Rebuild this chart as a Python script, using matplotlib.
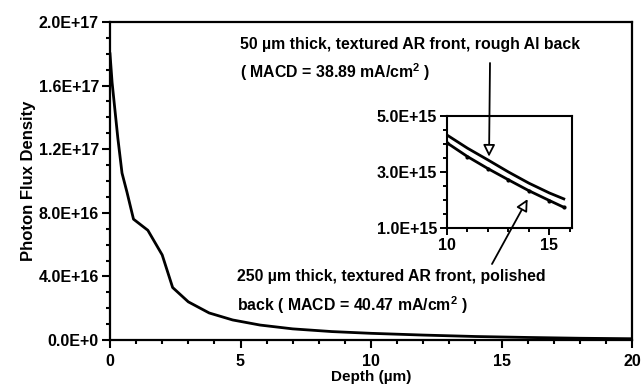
import matplotlib
matplotlib.use("Agg")
import matplotlib.pyplot as plt
from matplotlib.ticker import MultipleLocator
import numpy as np

# main curve (flux in units of 1E17)
depth = [0, 0.08, 0.3, 0.46, 0.65, 0.9, 1.45, 2.0, 2.4, 3.0, 3.8, 4.7, 5.75,
         7.0, 8.5, 10, 12, 14, 16, 18, 20]
flux = [1.80, 1.62, 1.27, 1.05, 0.93, 0.76, 0.69, 0.535, 0.33, 0.24, 0.17,
        0.126, 0.094, 0.07, 0.053, 0.042, 0.031, 0.022, 0.016, 0.011, 0.008]

# inset curves (flux in units of 1E15)
inset_depth = [10, 11, 12, 13, 14, 15, 15.7]
flux_50um = [4.32, 3.85, 3.43, 3.00, 2.60, 2.25, 2.04]
flux_250um = [4.04, 3.55, 3.12, 2.72, 2.33, 1.98, 1.74]

yticks = [0, 0.4e17, 0.8e17, 1.2e17, 1.6e17, 2.0e17]
ytick_labels = ["0.0E+0", "4.0E+16", "8.0E+16", "1.2E+17", "1.6E+17", "2.0E+17"]
inset_yticks = [1e15, 3e15, 5e15]
inset_ytick_labels = ["1.0E+15", "3.0E+15", "5.0E+15"]

plt.rcParams["font.family"] = "Liberation Sans"
plt.rcParams["font.weight"] = "bold"
plt.rcParams["axes.labelweight"] = "bold"
plt.rcParams["mathtext.fontset"] = "custom"
plt.rcParams["mathtext.rm"] = "Liberation Sans:bold"
plt.rcParams["mathtext.bf"] = "Liberation Sans:bold"
plt.rcParams["mathtext.it"] = "Liberation Sans:bold"
plt.rcParams["mathtext.default"] = "rm"

fig = plt.figure(figsize=(6.43, 3.9), dpi=100)
W, H = 643, 390

def px(x, y):
    # image pixel -> figure fraction
    return x / W, 1 - y / H

ax = fig.add_axes([110 / W, 1 - 340 / H, 522 / W, 318 / H])
ax.plot(depth, np.array(flux) * 1e17, color="black", lw=2)
ax.set_xlim(0, 20)
ax.set_ylim(0, 2.0e17)
ax.set_yticks(yticks)
ax.set_yticklabels(ytick_labels)
ax.set_xticks([0, 5, 10, 15, 20])
ax.xaxis.set_minor_locator(MultipleLocator(1))
ax.yaxis.set_minor_locator(MultipleLocator(0.1e17))
ax.tick_params(which="both", direction="out", width=1.5, labelsize=11.5, top=False, right=False)
ax.tick_params(which="major", length=6, pad=2)
ax.tick_params(axis="x", which="major", pad=4)
ax.tick_params(which="minor", length=3)
for lab in ax.get_xticklabels() + ax.get_yticklabels():
    lab.set_fontweight("bold")
for s in ax.spines.values():
    s.set_linewidth(1.6)
ax.set_xlabel("Depth (\u00b5m)", fontsize=11, labelpad=1)
ax.set_ylabel("Photon Flux Density", fontsize=12, labelpad=2)

# inset
axi = fig.add_axes([447 / W, 1 - 228 / H, 125 / W, 112 / H])
axi.plot(inset_depth, np.array(flux_50um) * 1e15, color="black", lw=2)
axi.plot(inset_depth, np.array(flux_250um) * 1e15, color="black", lw=2,
         marker="o", ms=2)
axi.set_xlim(10, 16.1)
axi.set_ylim(1e15, 5e15)
axi.set_yticks(inset_yticks)
axi.set_yticklabels(inset_ytick_labels)
axi.set_xticks([10, 15])
axi.xaxis.set_minor_locator(MultipleLocator(1))
axi.yaxis.set_minor_locator(MultipleLocator(0.5e15))
axi.tick_params(which="both", direction="out", width=1.4, labelsize=11.5, top=False, right=False)
axi.tick_params(which="major", length=5, pad=2)
axi.tick_params(which="minor", length=3)
for lab in axi.get_xticklabels() + axi.get_yticklabels():
    lab.set_fontweight("bold")
for s in axi.spines.values():
    s.set_linewidth(1.5)

# annotations
fig.text(*px(240, 45), "50 \u00b5m thick, textured AR front, rough Al back",
         fontsize=11.4, va="center", ha="left", fontweight="bold")
fig.text(*px(240, 72), "( MACD = 38.89 mA/cm$^2$ )", fontsize=11.4, va="center",
         ha="left", fontweight="bold")
fig.text(*px(237, 277), "250 \u00b5m thick, textured AR front, polished",
         fontsize=11.4, va="center", ha="left", fontweight="bold")
fig.text(*px(237, 305), "back ( MACD = 40.47 mA/cm$^2$ )", fontsize=11.4,
         va="center", ha="left", fontweight="bold")

arrow = dict(arrowstyle="-|>,head_length=0.7,head_width=0.35", fc="white",
             ec="black", lw=1.3, shrinkA=0, shrinkB=2)
axi.annotate("", xy=(12.05, 3.45e15), xycoords="data",
             xytext=px(490, 63), textcoords="figure fraction", arrowprops=arrow)
axi.annotate("", xy=(14.0, 2.12e15), xycoords="data",
             xytext=px(492, 264), textcoords="figure fraction", arrowprops=arrow)

fig.savefig("out.png", dpi=100)
